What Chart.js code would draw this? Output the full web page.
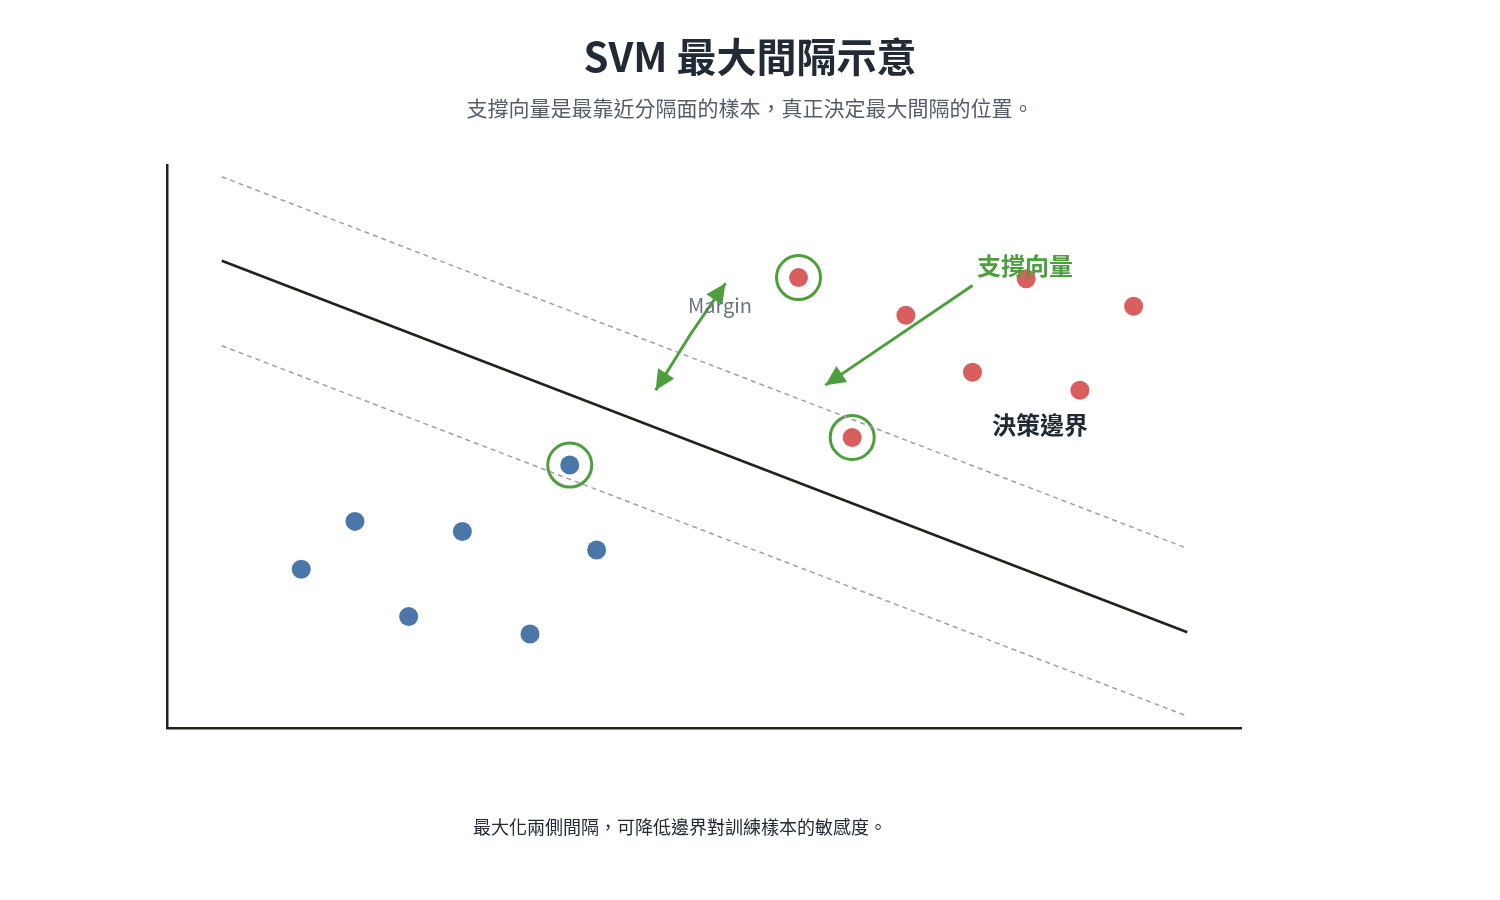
<!DOCTYPE html>
<html><head><meta charset="utf-8">
<script src="https://cdn.jsdelivr.net/npm/chart.js@4"></script>
<style>html,body{margin:0;background:#fff}#w{width:1500px;height:900px}</style>
</head><body><div id="w"><canvas id="c"></canvas></div>
<script>
const blueX=[1.25,1.75,2.25,2.75,3.38,3.75,4.0];
const blueY=[2.82,3.67,1.98,3.49,1.67,4.67,3.16];
const redX=[5.88,6.38,6.88,7.5,8.0,8.5,9.0];
const redY=[8.0,5.16,7.33,6.32,7.98,6.0,7.49];
const svX=[3.75,5.88,6.38];
const svY=[4.67,8.0,5.16];
const lineX=[0.51,9.5];
const decisionY=[8.30,1.70];
const upperY=[9.79,3.19];
const lowerY=[6.79,0.21];
const marginArrow=[[5.2,7.9],[4.87,6.98],[4.55,6.0]];
const svArrow=[[7.5,7.86],[6.13,6.09]];
const pts=(xs,ys)=>xs.map((x,i)=>({x,y:ys[i]}));
const F='"Noto Sans CJK TC","Noto Sans",sans-serif';
function arrowHead(ctx,x1,y1,x2,y2,s){const a=Math.atan2(y2-y1,x2-x1);ctx.beginPath();ctx.moveTo(x2,y2);ctx.lineTo(x2-s*Math.cos(a-0.45),y2-s*Math.sin(a-0.45));ctx.lineTo(x2-s*Math.cos(a+0.45),y2-s*Math.sin(a+0.45));ctx.closePath();ctx.fill();}
const deco={id:'deco',afterDatasetsDraw(ch){const c=ch.ctx,xs=ch.scales.x,ys=ch.scales.y;const P=p=>[xs.getPixelForValue(p[0]),ys.getPixelForValue(p[1])];
c.save();c.strokeStyle=c.fillStyle='#4c9f3c';c.lineWidth=3;
const m=marginArrow.map(P);c.beginPath();c.moveTo(...m[0]);c.lineTo(...m[1]);c.lineTo(...m[2]);c.stroke();
arrowHead(c,...m[1],...m[0],22);arrowHead(c,...m[1],...m[2],22);
const s=svArrow.map(P);c.beginPath();c.moveTo(...s[0]);c.lineTo(...s[1]);c.stroke();arrowHead(c,...s[0],...s[1],22);
c.textAlign='center';c.textBaseline='middle';
c.fillStyle='#6b7380';c.font='20px '+F;c.fillText('Margin',720,305);
c.fillStyle='#4c9f3c';c.font='bold 24px '+F;c.fillText('支撐向量',1025,266);
c.fillStyle='#222a36';c.font='bold 24px '+F;c.fillText('決策邊界',1040,425);
c.font='bold 40px '+F;c.fillText('SVM 最大間隔示意',750,57);
c.fillStyle='#555d68';c.font='21px '+F;c.fillText('支撐向量是最靠近分隔面的樣本，真正決定最大間隔的位置。',750,108);
c.fillStyle='#222a36';c.font='18px '+F;c.fillText('最大化兩側間隔，可降低邊界對訓練樣本的敏感度。',680,827);
c.restore();}};
new Chart(document.getElementById('c'),{type:'scatter',
data:{datasets:[
{data:pts(lineX,upperY),showLine:true,borderColor:'#9aa0aa',borderWidth:1.5,borderDash:[5,4],pointRadius:0},
{data:pts(lineX,lowerY),showLine:true,borderColor:'#9aa0aa',borderWidth:1.5,borderDash:[5,4],pointRadius:0},
{data:pts(lineX,decisionY),showLine:true,borderColor:'#22221c',borderWidth:2.5,pointRadius:0},
{data:pts(blueX,blueY),pointRadius:9.5,backgroundColor:'#4a76a8',borderWidth:0},
{data:pts(redX,redY),pointRadius:9.5,backgroundColor:'#d95f5f',borderWidth:0},
{data:pts(svX,svY),pointRadius:22,backgroundColor:'rgba(0,0,0,0)',borderColor:'#4c9f3c',borderWidth:3}
]},
options:{responsive:true,maintainAspectRatio:false,animation:false,
layout:{padding:{left:159,right:259,top:165,bottom:164}},
plugins:{legend:{display:false},tooltip:{enabled:false}},
scales:{x:{min:0,max:10,grid:{display:false},ticks:{display:false},border:{color:'#22221c',width:2.5}},
y:{min:0,max:10,grid:{display:false},ticks:{display:false},border:{color:'#22221c',width:2.5}}}},
plugins:[deco]});
</script></body></html>
